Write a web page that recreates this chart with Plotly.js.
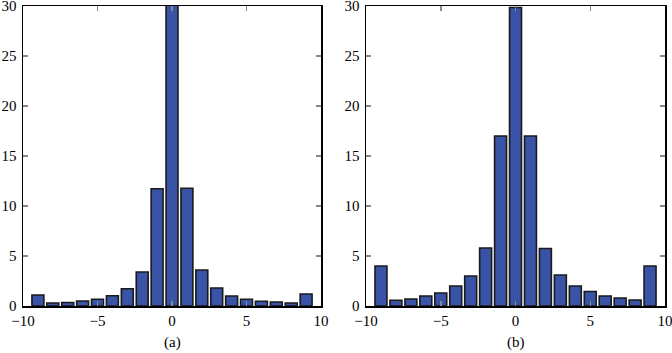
<!DOCTYPE html>
<html>
<head>
<meta charset="utf-8">
<script src="https://cdn.plot.ly/plotly-3.0.1.min.js"></script>
<style>html,body{margin:0;padding:0;background:#fff;}#chart{width:672px;height:353px;}</style>
</head>
<body>
<div id="chart"></div>
<script>
const binCenters = [-9,-8,-7,-6,-5,-4,-3,-2,-1,0,1,2,3,4,5,6,7,8,9];
const countsA = [1.1,0.3,0.35,0.5,0.67,1.03,1.73,3.4,11.73,31,11.77,3.6,1.8,1.0,0.67,0.47,0.4,0.3,1.2];
const countsB = [4.0,0.57,0.7,1.0,1.3,2.0,3.0,5.8,17.0,29.85,17.0,5.75,3.1,2.0,1.45,1.0,0.8,0.6,4.0];
const panelLabels = ['(a)','(b)'];

const barColor = '#3953a6';
const font = {family: "Liberation Serif", size: 15, color: '#000'};

function barTrace(y, xa, ya) {
  return {
    type: 'bar', x: binCenters, y: y, xaxis: xa, yaxis: ya,
    width: 0.8,
    marker: {color: barColor, line: {color: '#1a1a1a', width: 1.6}},
    hoverinfo: 'skip', showlegend: false
  };
}

function xax(domain, anchor) {
  return {
    domain: domain, anchor: anchor, range: [-10, 10], dtick: 5, tick0: 0,
    ticks: 'inside', ticklen: 5, tickcolor: '#888', tickwidth: 1.5,
    showline: true, linecolor: '#000', linewidth: 1.5, mirror: 'ticks',
    showgrid: false, zeroline: false, tickfont: font, fixedrange: true,
    ticklabeloverflow: 'allow'
  };
}
function yax(anchor) {
  return {
    anchor: anchor, range: [0, 30], dtick: 5, tick0: 0,
    ticks: 'inside', ticklen: 5, tickcolor: '#888', tickwidth: 1.5,
    showline: true, linecolor: '#000', linewidth: 1.5, mirror: 'ticks',
    showgrid: false, zeroline: false, tickfont: font, fixedrange: true,
    ticklabeloverflow: 'allow', ticklabelstandoff: 2
  };
}

const data = [barTrace(countsA, 'x', 'y'), barTrace(countsB, 'x2', 'y2')];

const layout = {
  width: 672, height: 353,
  margin: {l: 23, r: 7, t: 6, b: 47},
  paper_bgcolor: '#fff', plot_bgcolor: '#fff',
  font: font,
  bargap: 0,
  xaxis: xax([0, 0.4642], 'y'),
  yaxis: yax('x'),
  xaxis2: xax([0.5343, 1], 'y2'),
  yaxis2: yax('x2'),
  annotations: [
    {text: panelLabels[0], xref: 'x', yref: 'paper', x: 0, y: -0.123, showarrow: false, xanchor: 'center', yanchor: 'middle', font: font},
    {text: panelLabels[1], xref: 'x2', yref: 'paper', x: 0, y: -0.123, showarrow: false, xanchor: 'center', yanchor: 'middle', font: font}
  ]
};

Plotly.newPlot('chart', data, layout, {displayModeBar: false, staticPlot: true});
</script>
</body>
</html>
